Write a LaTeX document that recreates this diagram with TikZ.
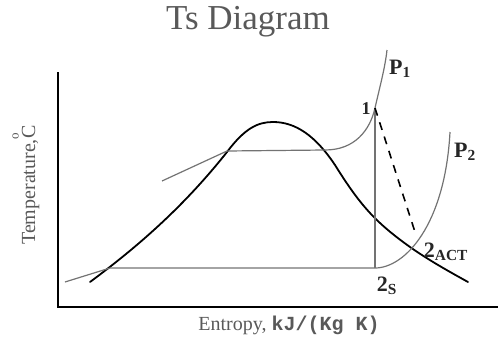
\documentclass[tikz,border=0pt]{standalone}
\usepackage{fontspec}
\setmainfont{Liberation Serif}
\newfontfamily\TSmono{Liberation Mono}
\providecommand{\TStitle}{\fontsize{35}{40}\selectfont}
\providecommand{\TSaxis}{\fontsize{20}{22}\selectfont}
\providecommand{\TSlbl}{\fontsize{22}{24}\selectfont\bfseries}
\providecommand{\TSsmall}{\fontsize{18}{20}\selectfont\bfseries}
\tikzset{
  axisline/.style={draw=black, line width=2pt},
  dome/.style={draw=black, line width=1.8pt, line cap=round},
  isobar/.style={draw=black!55, line width=1.2pt},
  actual/.style={draw=black, line width=1.6pt, dash pattern=on 8pt off 7pt},
  greytext/.style={text=black!65, inner sep=0pt},
  statelbl/.style={text=black!85, inner sep=0pt}
}
\begin{document}
\begin{tikzpicture}[x=1pt, y=-1pt]
\useasboundingbox (0,0) rectangle (498,340);

\node[greytext, font=\TStitle] (title) at (248,22) {Ts Diagram};

% axes
\coordinate (origin) at (58,307);
\coordinate (ytop) at (58,72);
\coordinate (xend) at (498,307);
\draw[axisline] (ytop) -- (origin) -- (xend);

\node[greytext, font=\TSaxis] (xlabel) at (289,325)
    {Entropy, {\TSmono\bfseries kJ/(Kg K)}};
\node[greytext, font=\TSaxis, rotate=90] (ylabel) at (26,185)
    {Temperature,\raisebox{1.8ex}{\fontsize{13}{13}\selectfont o}\kern-0.3em C};

% state points
\coordinate (one) at (375,108);
\coordinate (twoS) at (375,268);
\coordinate (twoA) at (415,232);
\coordinate (peak) at (273,122);

% saturation dome
\draw[dome] (90,282) .. controls (140,245) and (185,205) .. (227,152)
  .. controls (245,128) and (258,122) .. (peak)
  .. controls (295,122) and (315,135) .. (335,165)
  .. controls (360,205) and (375,222) .. (410,247)
  .. controls (430,261) and (450,272) .. (468,282);

% high pressure line P1
\draw[isobar] (162,181) -- (227,151)
  -- (325,150) .. controls (355,150) and (370,130) .. (one)
  .. controls (380,86) and (385,68) .. (387,50);

% low pressure line P2
\draw[isobar] (65,282) -- (110,268)
  -- (twoS) .. controls (405,268) and (445,225) .. (450,132);

% expansion
\draw[isobar] (twoS) -- (one);
\draw[actual] (one) -- (twoA);

% labels
\node[statelbl, font=\TSlbl] (pone) at (400,69) {P\textsubscript{1}};
\node[statelbl, font=\TSsmall] (lone) at (366,109) {1};
\node[statelbl, font=\TSlbl] (ptwo) at (465,152) {P\textsubscript{2}};
\node[statelbl, font=\TSlbl] (ltwoA) at (446,252) {2\textsubscript{ACT}};
\node[statelbl, font=\TSlbl] (ltwoS) at (387,286) {2\textsubscript{S}};

\end{tikzpicture}
\end{document}
